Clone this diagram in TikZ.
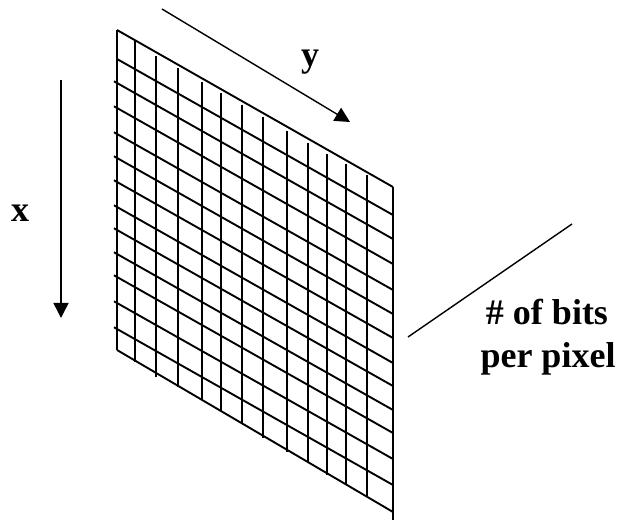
\documentclass[tikz,border=0pt]{standalone}
\usepackage{fontspec}
\setmainfont{Liberation Serif}
\usetikzlibrary{arrows.meta}
\begin{document}
\begin{tikzpicture}[x=1pt,y=-1pt,
  grid/.style={line width=1.9pt, line cap=butt},
  lbl/.style={font=\bfseries\fontsize{36}{43}\selectfont, inner sep=0pt, anchor=base},
  arr/.style={line width=1.4pt, -{Triangle[length=15pt,width=15pt]}},
  thin/.style={line width=1.4pt}]
\useasboundingbox (0,0) rectangle (627,521);
\fill[white] (0,0) rectangle (627,521);
% outer frame
\draw[grid] (117,30) -- (393,187);
\draw[grid] (117,350) -- (393,512);
\draw[grid] (117,30) -- (117,350);
\draw[grid] (393,187) -- (393,520);
% slanted interior lines
\draw[grid] (117,59) -- (393,215);
\foreach \yl in {83,108,134,158,182,207,230,254,277,303,329}
  \draw[grid] (114,\yl-1.7) -- (393,\yl+156);
% vertical interior lines
\foreach \xx/\yt/\yb in {135/40/362,156/56/377,178/68/387,202/82/400,221/93/411,242/105/423,263/117/438,287/131/452,308/143/462,327/154/475,346/164/484,367/175/496}
  \draw[grid] (\xx,\yt) -- (\xx,\yb);
% arrows
\coordinate (xs) at (61,80);
\coordinate (xe) at (61,318);
\draw[arr] (xs) -- (xe);
\coordinate (ys) at (162,9);
\coordinate (ye) at (350,122);
\draw[arr] (ys) -- (ye);
\coordinate (bs) at (408,337);
\coordinate (be) at (572,224);
\draw[thin] (bs) -- (be);
% labels
\node[lbl] (xl) at (20,222) {x};
\node[lbl] (yl) at (310,67) {y};
\node[lbl] (bits1) at (547,325) {\# of bits};
\node[lbl] (bits2) at (548,368) {per pixel};
\end{tikzpicture}
\end{document}
